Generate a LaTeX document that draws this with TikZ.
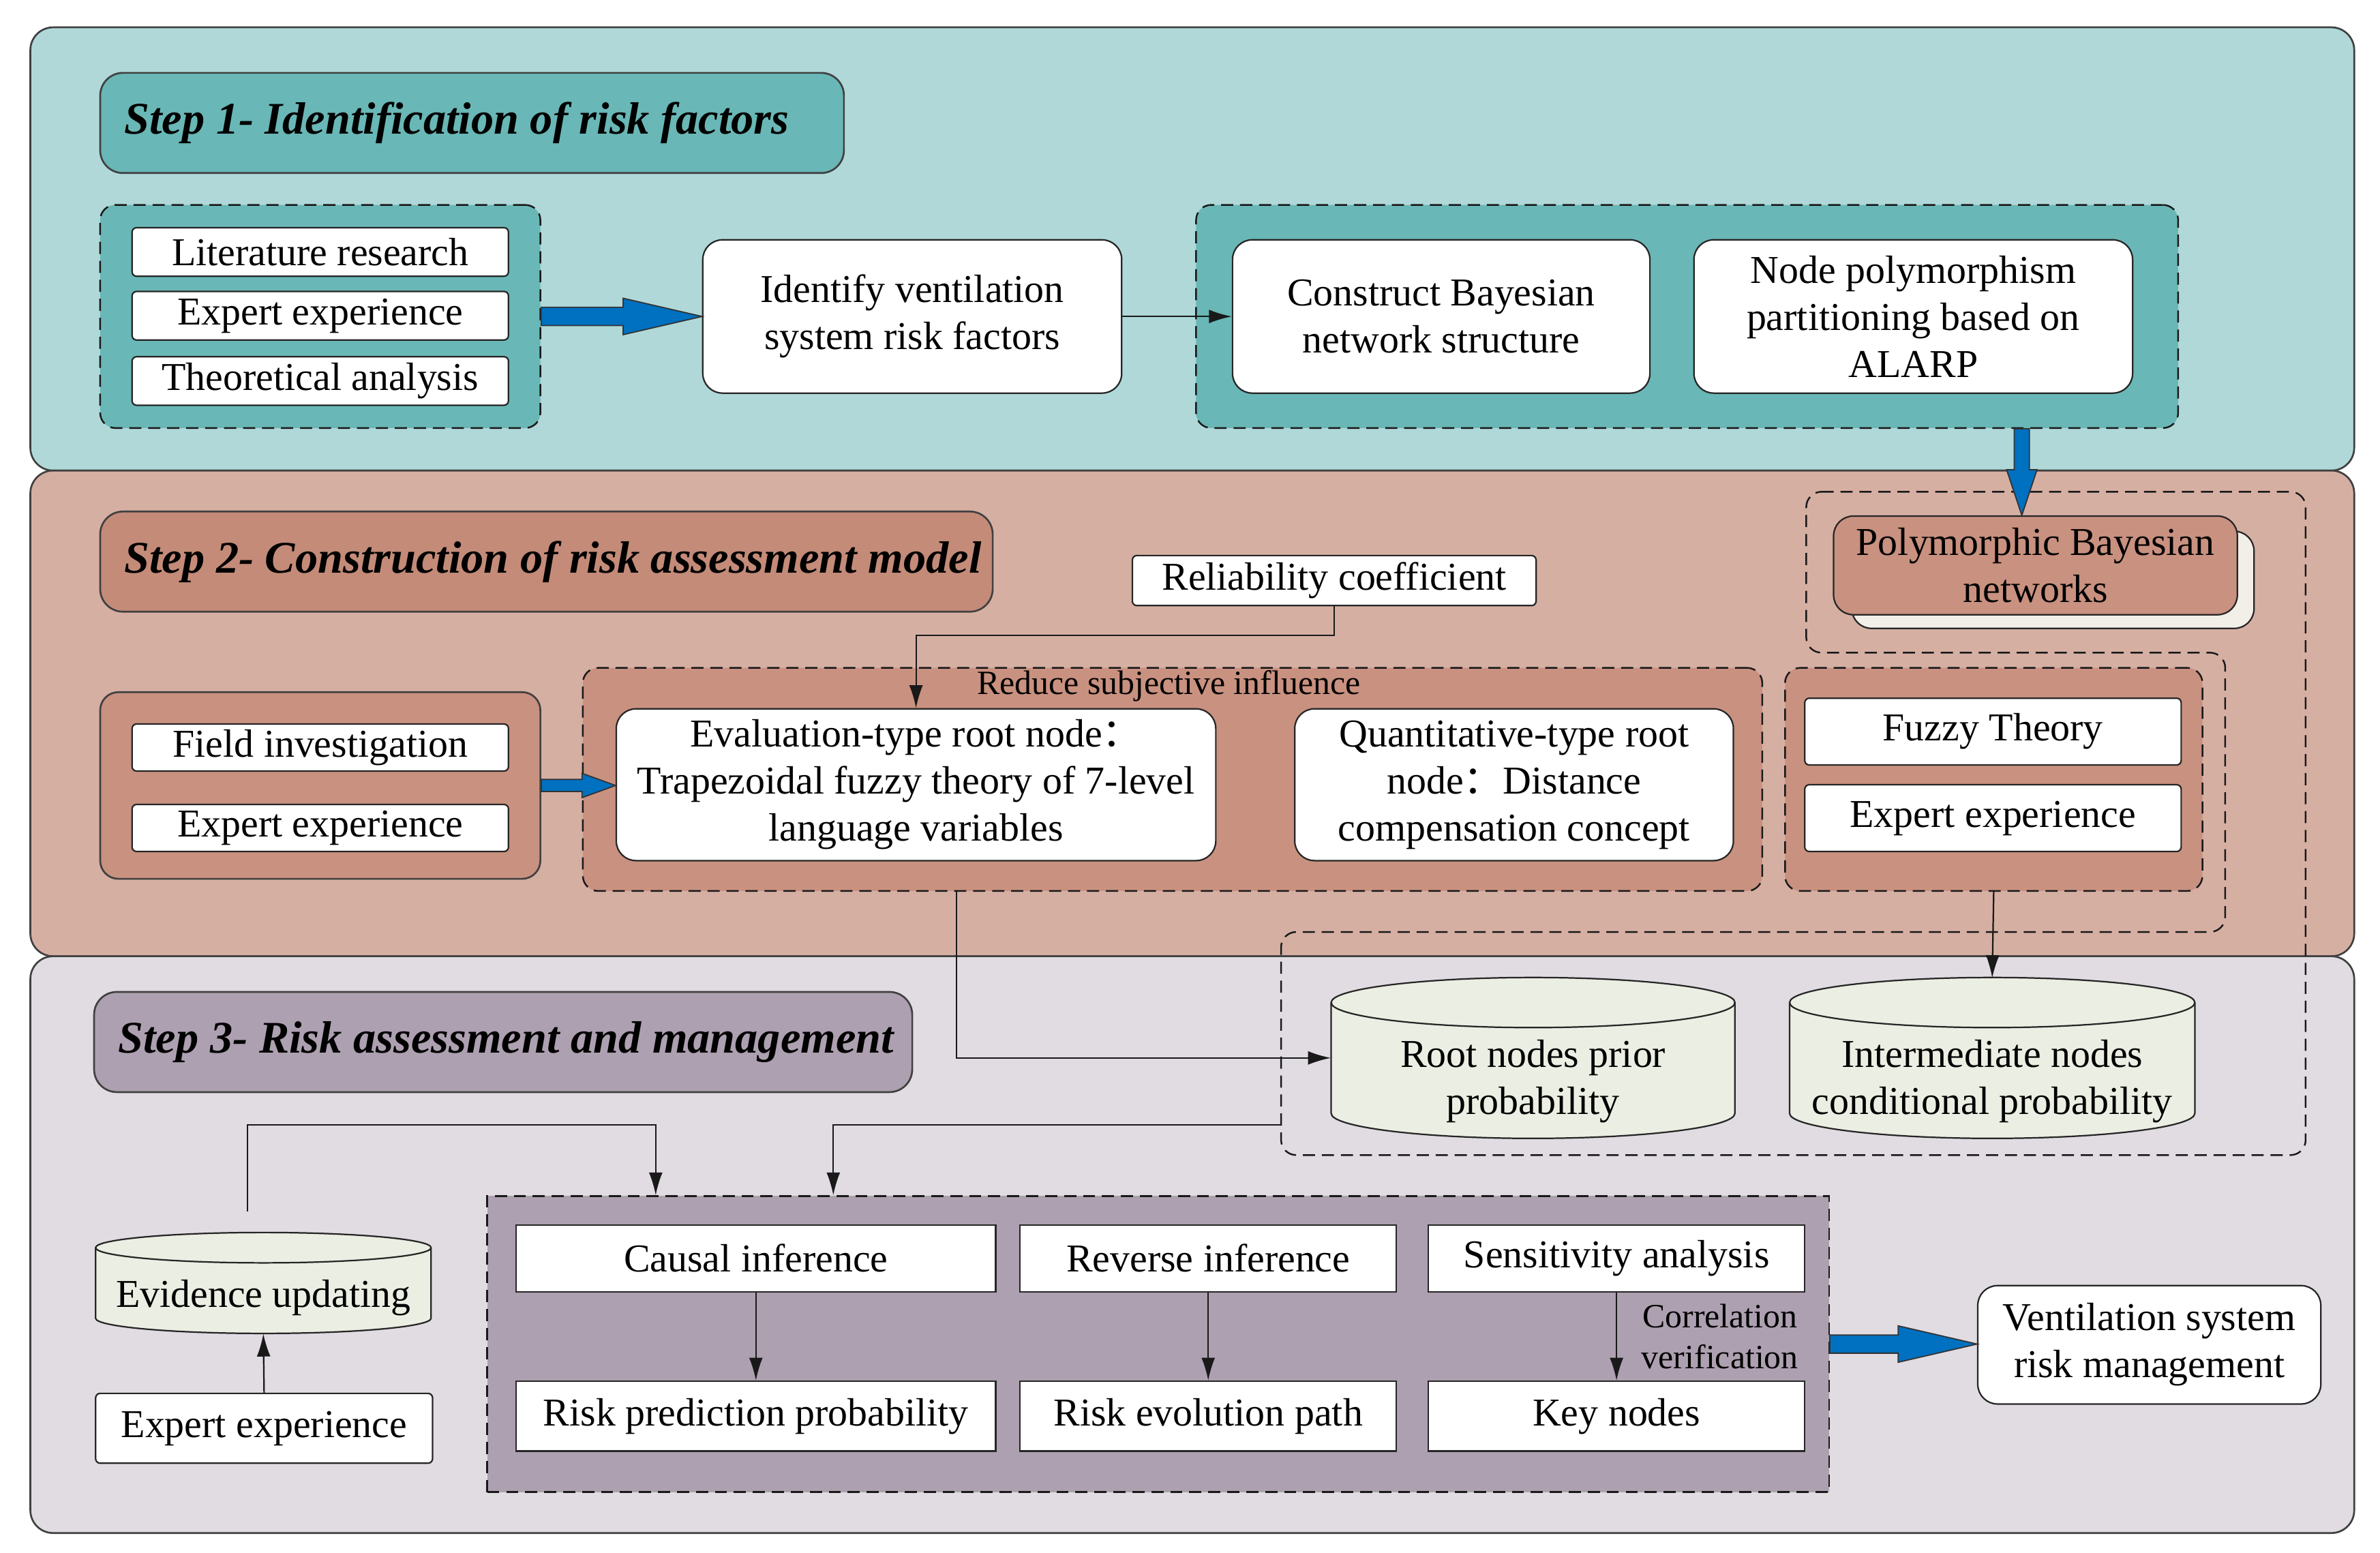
\documentclass[tikz,border=0pt]{standalone}
\usepackage{fontspec}
\setmainfont{Liberation Serif}
\newfontfamily\cjk{Noto Sans CJK SC}
\usetikzlibrary{positioning,calc,arrows.meta}
\definecolor{teal1}{RGB}{176,216,216}
\definecolor{teal2}{RGB}{105,183,182}
\definecolor{rose1}{RGB}{214,175,163}
\definecolor{rose2}{RGB}{196,139,121}
\definecolor{rose3}{RGB}{201,145,128}
\definecolor{mauve1}{RGB}{224,220,226}
\definecolor{mauve2}{RGB}{173,160,176}
\definecolor{db}{RGB}{235,238,226}
\definecolor{paper}{RGB}{242,238,232}
\definecolor{flowblue}{RGB}{0,112,192}
\newcommand{\bodyfont}{\fontsize{26}{31}\selectfont}
\newcommand{\headfont}{\fontsize{29.8}{34}\selectfont\bfseries\itshape}
\newcommand{\notefont}{\fontsize{22.4}{27}\selectfont}
\tikzset{
    panel/.style={draw=black!75, line width=1.2pt, rounded corners=15pt, inner sep=0pt},
    head/.style={panel, font=\headfont, inner xsep=16pt, inner ysep=0pt, minimum height=66pt,
        execute at begin node={\hbox to #1pt\bgroup}, execute at end node={\hss\egroup}},
    box/.style 2 args={draw=black!85, line width=1pt, fill=white, align=center, inner sep=0pt, minimum width=#1pt, minimum height=#2pt},
    card/.style 2 args={box={#1}{#2}, rounded corners=13pt},
    tag/.style 2 args={box={#1}{#2}, rounded corners=3pt},
    grp/.style 2 args={draw=black!90, line width=1.1pt, dash pattern=on 8pt off 4.5pt, rounded corners=10pt, inner sep=0pt, minimum width=#1pt, minimum height=#2pt},
    dbline/.style={draw=black!85, line width=1pt, fill=db},
    dbtext/.style 2 args={align=center, inner sep=0pt, minimum width=#1pt, minimum height=#2pt},
    link/.style={draw=black!90, line width=1pt, -{Latex[length=15pt,width=9pt]}},
    note/.style={font=\notefont, align=center, inner sep=0pt},
    fat/.style n args={3}{draw=black!80, line width=0.8pt, fill=flowblue,
        to path={let \p1=(\tikztostart), \p2=(\tikztotarget) in
            (\x1,\y1+#1) -- (\x2-#3,\y1+#1) -- (\x2-#3,\y1+#2) -- (\x2,\y1)
            -- (\x2-#3,\y1-#2) -- (\x2-#3,\y1-#1) -- (\x1,\y1-#1) -- cycle}},
    fatdown/.style n args={3}{draw=black!80, line width=0.8pt, fill=flowblue,
        to path={let \p1=(\tikztostart), \p2=(\tikztotarget) in
            (\x1-#1,\y1) -- (\x1-#1,\y2+#3) -- (\x1-#2,\y2+#3) -- (\x1,\y2)
            -- (\x1+#2,\y2+#3) -- (\x1+#1,\y2+#3) -- (\x1+#1,\y1) -- cycle}}
}
% drum: x, top cap y, bottom cap y, x radius, y radius
\newcommand{\drum}[5]{
    \filldraw[dbline] (#1-#4,#2) -- (#1-#4,#3) arc[start angle=180, end angle=360, x radius=#4pt, y radius=#5pt]
        -- (#1+#4,#2) arc[start angle=0, end angle=180, x radius=#4pt, y radius=#5pt] -- cycle;
    \draw[dbline, fill=none] (#1-#4,#2) arc[start angle=180, end angle=360, x radius=#4pt, y radius=#5pt];
}

\begin{document}
\begin{tikzpicture}[x=1pt, y=-1pt, every node/.style={font=\bodyfont}]
    \fill[white] (0,0) rectangle (1568,1023);
    \useasboundingbox (0,0) rectangle (1568,1023);

    % three steps
    \node[panel, fill=teal1, minimum width=1531pt, minimum height=292pt] (pan1) at (785.5,164) {};
    \node[panel, fill=rose1, minimum width=1531pt, minimum height=320pt] (pan2) at (785.5,470) {};
    \node[panel, fill=mauve1, minimum width=1531pt, minimum height=380pt] (pan3) at (785.5,820) {};
    \node[head=458, fill=teal2] (t1) at (311,81) {Step 1- Identification of risk factors};
    \node[head=556, fill=rose2] (t2) at (360,370) {Step 2- Construction of risk assessment model};
    \node[head=507, fill=mauve2] (t3) at (331.5,686.5) {Step 3- Risk assessment and management};

    % step 1
    \node[grp={290}{147}, fill=teal2] (grpA) at (211,208.5) {};
    \foreach \n/\pos/\t in {lit/166/Literature research, expA/208/Expert experience, theo/251/Theoretical analysis}
        \node[tag={248}{32}] (\n) at (211,\pos) {\t};
    \node[card={276}{101}] (ident) at (601,208.5) {Identify ventilation\\system risk factors};
    \node[grp={647}{147}, fill=teal2] (grpB) at (1111.5,208.5) {};
    \node[card={275}{101}] (cbn) at (949.5,208.5) {Construct Bayesian\\network structure};
    \node[card={289}{101}] (npp) at (1260.5,208.5) {Node polymorphism\\partitioning based on\\ALARP};
    \draw[fat={6pt}{12pt}{52pt}] (grpA.east) to (ident.west);
    \draw[link] (ident.east) -- (cbn.west);

    % step 2
    \draw[grp={0}{0}] (1190,324) -- (1519,324) -- (1519,761) -- (844,761) -- (844,614)
        -- (1466,614) -- (1466,430) -- (1190,430) -- cycle;
    \coordinate (dbl) at (844,741);
    \node[card={265}{64}, fill=paper] (polyback) at (1352.5,382) {};
    \node[card={266}{65}, fill=rose3] (poly) at (1341,372.5) {Polymorphic Bayesian\\networks};
    \draw[fatdown={5pt}{10pt}{30pt}] ([xshift=-9pt]poly.north |- grpB.south) to ([xshift=-9pt]poly.north);
    \node[tag={266}{33}] (rel) at (879,382.5) {Reliability coefficient};

    \node[panel, rounded corners=12pt, fill=rose3, minimum width=290pt, minimum height=123pt] (grpC) at (211,517.5) {};
    \node[tag={248}{31}] (field) at (211,492.5) {Field investigation};
    \node[tag={248}{31}] (expB) at (211,545.5) {Expert experience};
    \node[grp={777}{147}, fill=rose3] (grpD) at (772.5,513.5) {};
    \node[note] (reduce) at (770,452) {Reduce subjective influence};
    \node[card={395}{100}] (eval) at (603.5,517) {Evaluation-type root node{\cjk ：}\\Trapezoidal fuzzy theory of 7-level\\language variables};
    \node[card={289}{100}] (quant) at (997.5,517) {Quantitative-type root\\node{\cjk ：}Distance\\compensation concept};
    \node[grp={275}{147}, fill=rose3] (grpE) at (1313.5,513.5) {};
    \node[tag={248}{44}] (fuzzy) at (1313,482) {Fuzzy Theory};
    \node[tag={248}{44}] (expC) at (1313,539) {Expert experience};
    \draw[link] (rel.south) -- ++(0,19) -| (eval.north);
    \draw[fat={4pt}{8pt}{22pt}] (grpC.east) to (eval.west);

    % step 3
    \drum{1010}{660.5}{733.5}{133}{16.5}
    \drum{1312.5}{660.5}{733.5}{133.5}{16.5}
    \node[dbtext={266}{136}] (root) at (1010,712.5) {Root nodes prior\\probability};
    \node[dbtext={267}{136}] (inter) at (1312.5,712.5) {Intermediate nodes\\conditional probability};
    \draw[link] ([xshift=26.5pt]eval.south |- grpD.south) |- ([yshift=15.5pt]root.west);
    \draw[link] (grpE.south) -- (inter.north);

    \node[grp={884}{195}, fill=mauve2, rounded corners=0pt] (grp3) at (763,885.5) {};
    \node[box={316}{44}] (causal) at (498,829) {Causal inference};
    \node[box={248}{44}] (reverse) at (796,829) {Reverse inference};
    \node[box={248}{44}] (sens) at (1065,829) {Sensitivity analysis};
    \node[box={316}{46}] (riskp) at (498,933) {Risk prediction probability};
    \node[box={248}{46}] (evol) at (796,933) {Risk evolution path};
    \node[box={248}{46}] (key) at (1065,933) {Key nodes};
    \draw[link] (causal) -- (riskp);
    \draw[link] (reverse) -- (evol);
    \draw[link] (sens) -- node[note, right=16pt] (corr) {Correlation\\verification} (key);

    \drum{173.5}{822}{868.5}{110.5}{10}
    \node[dbtext={221}{47}] (evid) at (173.5,855) {Evidence updating};
    \node[tag={222}{46}] (expD) at (174,941) {Expert experience};
    \draw[link] (expD.north) -- (evid.south);
    \coordinate (evtop) at (163,798);
    \draw[link] (evtop) -- ++(0,-57) -| ([xshift=-331pt]grp3.north);
    \draw[link] (dbl) -| ([xshift=-214pt]grp3.north);

    \node[card={226}{78}] (vsrm) at (1416,886) {Ventilation system\\risk management};
    \draw[fat={6pt}{12pt}{52pt}] (grp3.east) to (vsrm.west);
\end{tikzpicture}
\end{document}
